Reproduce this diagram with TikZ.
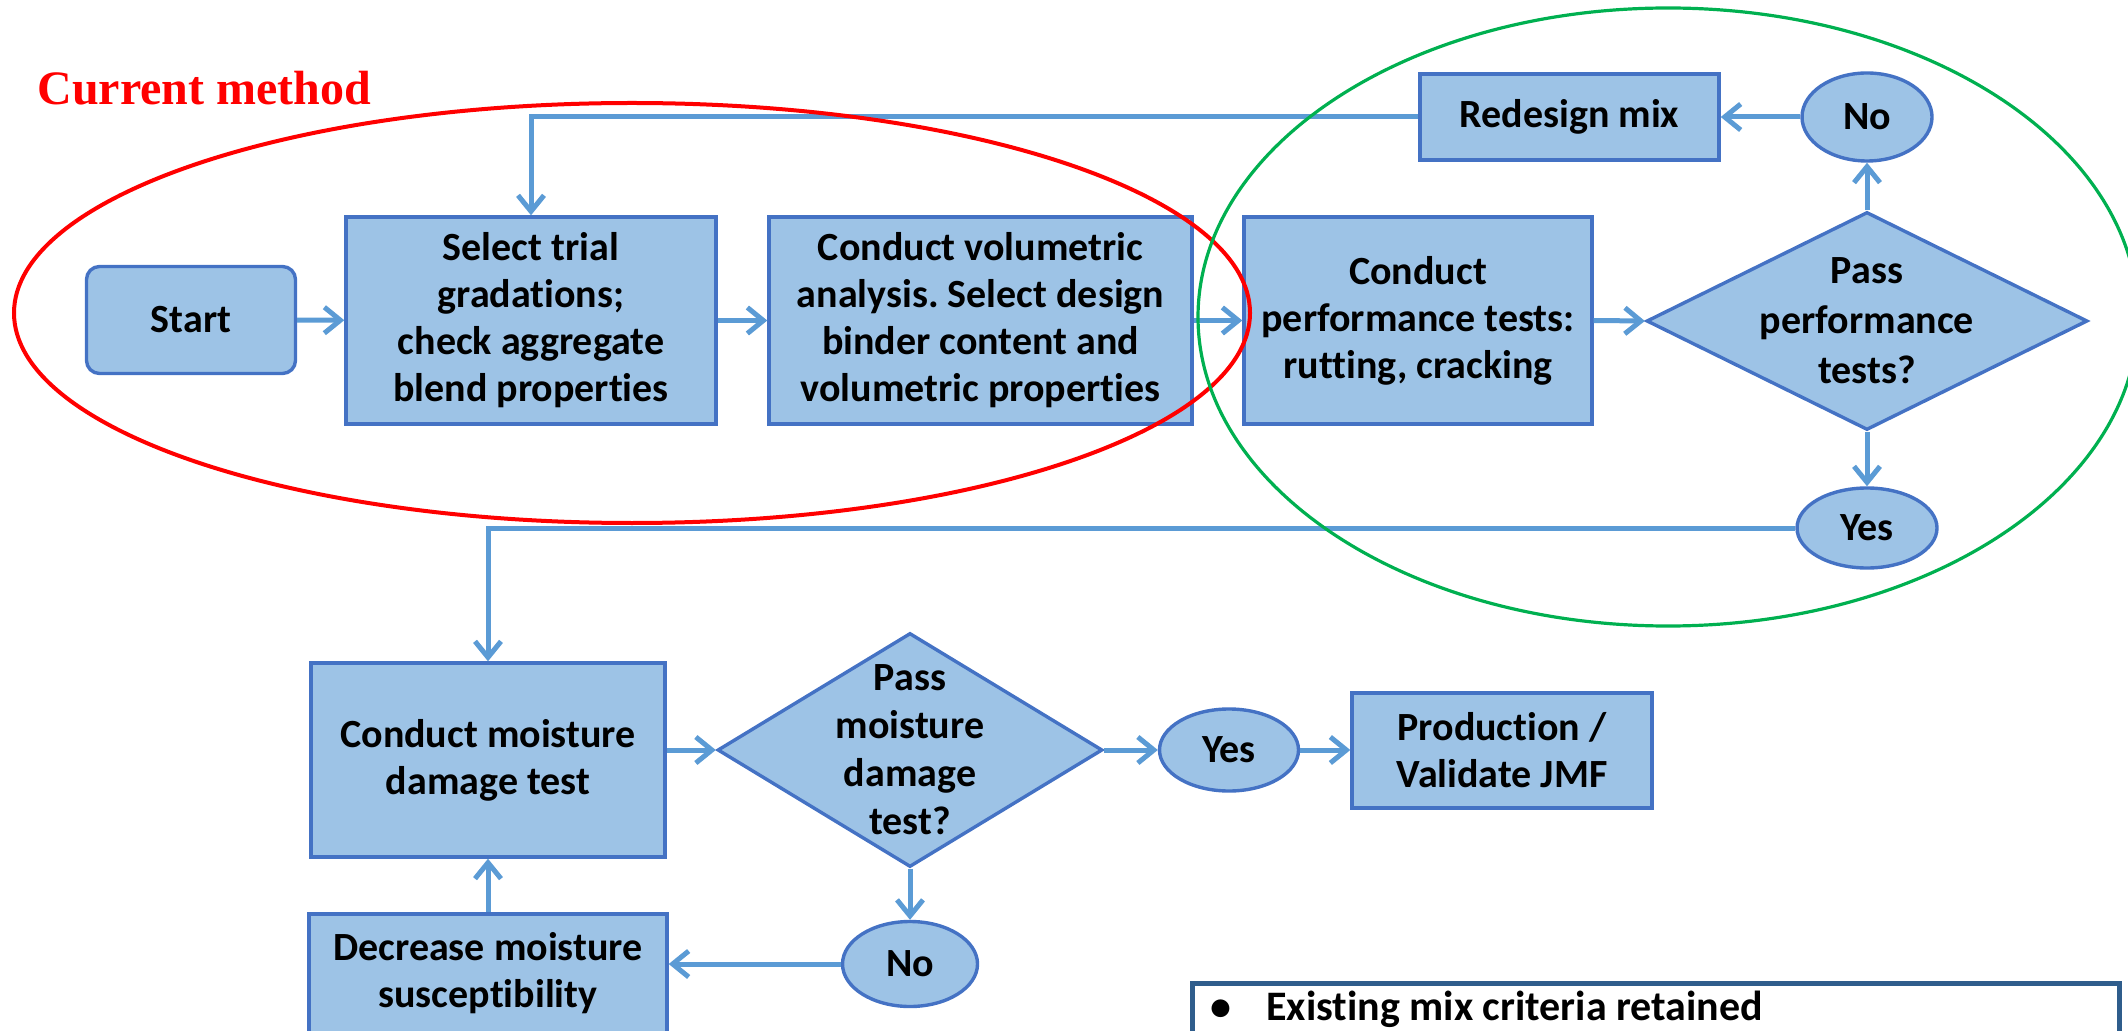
\documentclass[tikz,border=0pt]{standalone}
\usepackage{fontspec}
\setmainfont{Carlito}[Ligatures=CommonOff]
\newfontfamily\redserif{Liberation Serif}
\usetikzlibrary{shapes.geometric,arrows.meta}
\definecolor{boxfill}{HTML}{9DC3E6}
\definecolor{boxline}{HTML}{4472C4}
\definecolor{arrowc}{HTML}{5B9BD5}
\definecolor{redc}{HTML}{FF0000}
\definecolor{greenc}{HTML}{00B050}
\definecolor{tbline}{HTML}{2F5D8C}
\frenchspacing
\tikzset{
  txt/.style={font=\fontsize{20}{23.5}\selectfont\bfseries, align=center, text=black},
  flowbox/.style={txt, draw=boxline, fill=boxfill, line width=1.7pt, rectangle, inner sep=0pt},
  startbox/.style={flowbox, rounded corners=6.5pt},
  decision/.style={draw=boxline, fill=boxfill, line width=1.7pt, diamond, inner sep=0pt},
  answer/.style={txt, draw=boxline, fill=boxfill, line width=1.7pt, ellipse, inner sep=0pt},
  arr/.style={draw=arrowc, line width=2.5pt, -{Straight Barb[length=8pt,width=13pt]}},
  plainline/.style={draw=arrowc, line width=2.5pt}
}
\begin{document}
\begin{tikzpicture}[x=0.5pt,y=-0.5pt]
\useasboundingbox (0,0) rectangle (2128,1031);
\clip (0,0) rectangle (2128,1031);

% title label
\node[text=redc, font=\redserif\bfseries\fontsize{24}{28}\selectfont, anchor=base west, inner sep=0pt] (cm) at (37,105) {Current method};

% row 1
\node[startbox, minimum width=104.5pt, minimum height=53.5pt] (start) at (191,320) {Start};
\node[flowbox, minimum width=185pt, minimum height=103.5pt] (select) at (531,320.5) {Select trial\\gradations;\\check aggregate\\blend properties};
\node[flowbox, minimum width=211.5pt, minimum height=103.5pt] (vol) at (980.5,320.5) {Conduct volumetric\\analysis. Select design\\binder content and\\volumetric properties};
\node[flowbox, minimum width=174pt, minimum height=103.5pt] (perf) at (1418,320.5) {Conduct\\performance tests:\\rutting, cracking};
\node[decision, minimum width=220.5pt, minimum height=109pt] (d1) at (1867,321) {};
\node[txt, font=\fontsize{20}{25}\selectfont\bfseries] (d1t) at (d1.center) {Pass\\performance\\tests?};
\node[answer, minimum width=65pt, minimum height=44pt] (no1) at (1867,117) {No};
\node[flowbox, minimum width=149.5pt, minimum height=43pt] (redesign) at (1569.5,117) {Redesign mix};
\node[answer, minimum width=70pt, minimum height=40pt] (yes1) at (1867,528) {Yes};

% row 2
\node[flowbox, minimum width=177pt, minimum height=97pt] (moist) at (488,760) {Conduct moisture\\damage test};
\node[decision, minimum width=192.5pt, minimum height=117pt] (dm) at (910,750) {};
\node[txt, font=\fontsize{20}{24}\selectfont\bfseries] (dmt) at (dm.center) {Pass\\moisture\\damage\\test?};
\node[answer, minimum width=69.5pt, minimum height=41pt] (yes2) at (1229,750) {Yes};
\node[flowbox, minimum width=150pt, minimum height=57.5pt] (prod) at (1502,750.5) {Production /\\Validate JMF};
\node[answer, minimum width=67.5pt, minimum height=42.5pt] (no2) at (910,964) {No};
\node[flowbox, minimum width=179pt, minimum height=73pt] (dec) at (488,987) {};
\node[txt] (dect) at (488,973) {Decrease moisture\\susceptibility};

% text box
\node[draw=tbline, line width=2.5pt, minimum width=463.5pt, minimum height=40pt, anchor=north west, inner sep=0pt] (tb) at (1190,981) {};
\node[font=\fontsize{21}{25}\selectfont\bfseries, anchor=base west, inner sep=0pt] (bul) at (1210,1020) {•};
\node[font=\fontsize{21}{25}\selectfont\bfseries, anchor=base west, inner sep=0pt] (crit) at (1266,1020) {Existing mix criteria retained};

% connectors
\draw[arr] (start) -- (select);
\draw[arr] (select) -- (vol);
\draw[arr] (vol) -- (perf);
\draw[arr] (perf.east) -- (d1.west);
\draw[arr] (d1.north) -- (no1.south);
\draw[arr] (no1.west) -- (redesign.east);
\draw[arr] (redesign.west) -| (select.north);
\draw[arr] (d1.south) -- (yes1.north);
\draw[arr] (yes1.west) -| (moist.north);
\draw[arr] (moist.east |- dm.west) -- (dm.west);
\draw[arr] (dm.east) -- (yes2.west);
\draw[arr] (yes2.east) -- (prod.west |- yes2.east);
\draw[arr] (dm.south) -- (no2.north);
\draw[arr] (no2.west) -- (dec.east |- no2.west);
\draw[arr] (dec.north) -- (moist.south);

% grouping ellipses
\draw[redc, line width=2pt] (632,313) ellipse [x radius=309pt, y radius=105pt];
\draw[greenc, line width=1.6pt] (1668,317) ellipse [x radius=235pt, y radius=154.5pt];
\end{tikzpicture}
\end{document}
